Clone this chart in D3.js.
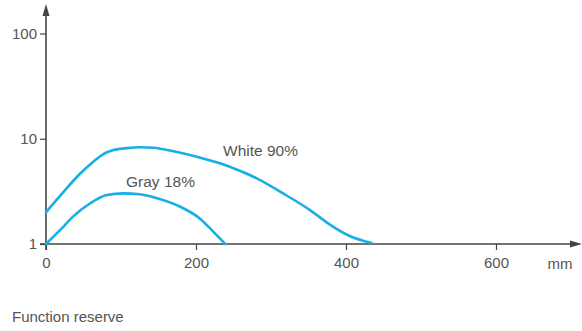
<!DOCTYPE html>
<html><head><meta charset="utf-8">
<script src="https://cdn.jsdelivr.net/npm/d3@7"></script>
<style>
html,body{margin:0;padding:0;background:#fff;}
svg{display:block;font-family:"Liberation Sans",Arial,Helvetica,sans-serif;}
</style></head>
<body><svg id="c" width="582" height="331"></svg>
<script>
// Data
const whiteX = [0, 19, 45, 63, 76, 90, 108, 125, 143, 170, 201, 232, 259, 281, 316, 352, 379, 405, 434];
const whiteY = [2.0, 2.88, 4.62, 6.05, 7.12, 7.80, 8.15, 8.30, 8.20, 7.60, 6.75, 5.84, 4.94, 4.21, 3.03, 2.10, 1.52, 1.19, 1.02];
const grayX = [0, 19, 36, 59, 81, 103, 125, 148, 179, 205, 223, 239];
const grayY = [1.0, 1.36, 1.82, 2.44, 2.92, 3.03, 2.97, 2.72, 2.26, 1.75, 1.31, 1.0];
const xTicks = [0, 200, 400, 600];
const yTicks = [1, 10, 100];
const seriesLabels = ["White 90%", "Gray 18%"];
const xUnit = "mm";
const caption = "Function reserve";

const svg = d3.select("#c");
const x = d3.scaleLinear().domain([0, 600]).range([46, 496]);
const y = d3.scaleLog().domain([1, 100]).range([244, 33.5]);
const axisColor = "#444";
const textColor = "#555";
const curveColor = "#18aee6";
const font = '"Liberation Sans",Arial,sans-serif';

// y axis line with arrow
svg.append("line").attr("x1", 46).attr("x2", 46).attr("y1", 250).attr("y2", 14)
  .attr("stroke", axisColor).attr("stroke-width", 1.6);
svg.append("path").attr("d", "M46,4 L42.5,16 L49.5,16 Z").attr("fill", axisColor);
// x axis line with arrow
svg.append("line").attr("x1", 40).attr("x2", 570).attr("y1", 244).attr("y2", 244)
  .attr("stroke", axisColor).attr("stroke-width", 1.6);
svg.append("path").attr("d", "M582,244 L570,240.5 L570,247.5 Z").attr("fill", axisColor);

// y ticks
const yAxis = d3.axisLeft(y).tickValues(yTicks).tickFormat(d3.format("d")).tickSize(6).tickPadding(3);
const gy = svg.append("g").attr("transform", "translate(46,0)").call(yAxis);
gy.select(".domain").remove();
gy.selectAll("line").attr("stroke", axisColor).attr("stroke-width", 1.2);
gy.selectAll("text").attr("fill", textColor).style("font-size", "15px").style("font-family", font);

// x ticks
const xAxis = d3.axisBottom(x).tickValues(xTicks).tickFormat(d3.format("d")).tickSize(6).tickPadding(7);
const gx = svg.append("g").attr("transform", "translate(0,244)").call(xAxis);
gx.select(".domain").remove();
gx.selectAll("line").attr("stroke", axisColor).attr("stroke-width", 1.2);
gx.selectAll("text").attr("fill", textColor).style("font-size", "15px").style("font-family", font);

svg.append("text").attr("x", 560).attr("y", 268.5).attr("text-anchor", "middle")
  .attr("fill", textColor).style("font-size", "15px").text(xUnit);

// curves
const line = d3.line().x(d => x(d[0])).y(d => y(d[1])).curve(d3.curveMonotoneX);
const white = whiteX.map((v, i) => [v, whiteY[i]]);
const gray = grayX.map((v, i) => [v, grayY[i]]);
[white, gray].forEach(s => {
  svg.append("path").attr("d", line(s)).attr("fill", "none")
    .attr("stroke", curveColor).attr("stroke-width", 2.6).attr("stroke-linecap", "round");
});

// series labels
svg.append("text").attr("x", 223).attr("y", 155.5).attr("fill", textColor)
  .style("font-size", "15.5px").text(seriesLabels[0]);
svg.append("text").attr("x", 126).attr("y", 186.5).attr("fill", textColor)
  .style("font-size", "15.5px").text(seriesLabels[1]);

// caption
svg.append("text").attr("x", 12).attr("y", 321.5).attr("fill", textColor)
  .style("font-size", "15px").text(caption);
</script>
</body></html>
